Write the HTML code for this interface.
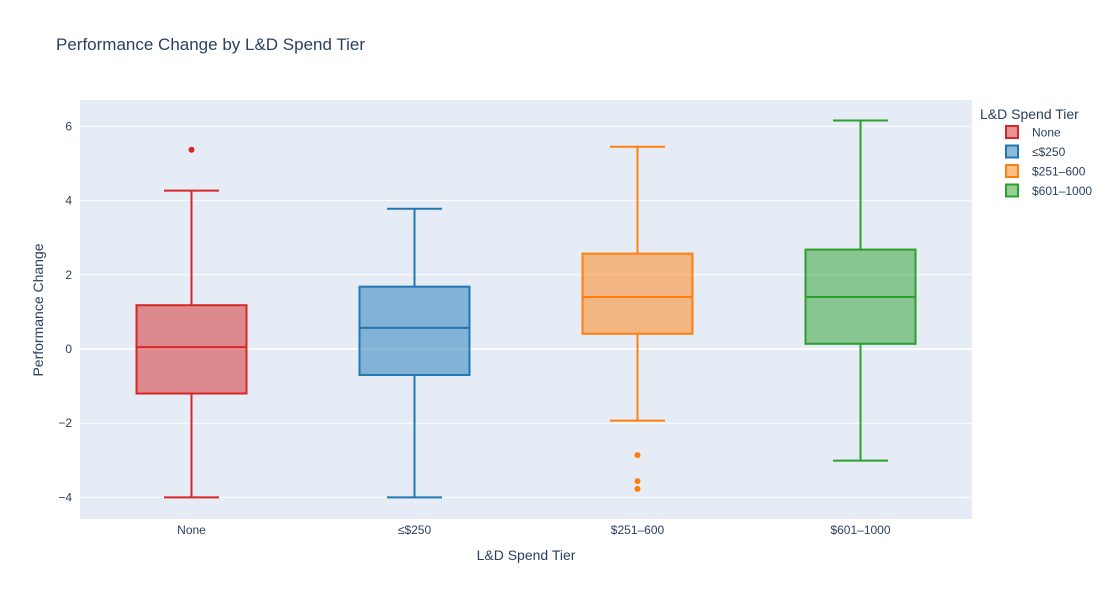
<!DOCTYPE html>
<html><head><meta charset="utf-8">
<style>
body{margin:0;background:#fff;font-family:"Liberation Sans",sans-serif;}
svg text{font-family:"Liberation Sans","DejaVu Sans",sans-serif;}
</style></head>
<body>
<svg id="chart" width="1118" height="600" xmlns="http://www.w3.org/2000/svg">
<rect width="1118" height="600" fill="#fff"/>
<text x="56" y="50" font-size="17" fill="#2a3f5f">Performance Change by L&amp;D Spend Tier</text>
<rect x="80" y="100" width="892" height="419" fill="#e5ecf6"/>
<g id="grid"></g>
<g id="boxes"></g>
<g id="xt"></g>
<text x="526" y="560" font-size="14" fill="#2a3f5f" text-anchor="middle">L&amp;D Spend Tier</text>
<text transform="translate(43,310) rotate(-90)" font-size="14" fill="#2a3f5f" text-anchor="middle">Performance Change</text>
<text x="980" y="119" font-size="14" fill="#2a3f5f">L&amp;D Spend Tier</text>
<g id="legend"></g>
</svg>
<script>
const categories=["None","≤$250","$251–600","$601–1000"];
const colors=["#d62728","#1f77b4","#ff7f0e","#2ca02c"];
const fills=["rgba(214,39,40,0.5)","rgba(31,119,180,0.5)","rgba(255,127,14,0.5)","rgba(44,160,44,0.5)"];
const lowerFence=[-4,-4,-1.93,-3.01];
const q1=[-1.2,-0.7,0.41,0.14];
const medians=[0.05,0.57,1.4,1.4];
const q3=[1.18,1.68,2.57,2.68];
const upperFence=[4.27,3.78,5.45,6.16];
const outliers=[[5.37],[],[-2.86,-3.56,-3.77],[]];
const yTicks=[-4,-2,0,2,4,6];
const NS="http://www.w3.org/2000/svg";
const X0=80,W=892;
const y=v=>349-v*37.1;
const xc=i=>X0+W/categories.length*(i+0.5);
function mk(t,a,p){const e=document.createElementNS(NS,t);for(const k in a)e.setAttribute(k,a[k]);p.appendChild(e);return e;}
const grid=document.getElementById('grid');
yTicks.forEach(v=>{
 const l=mk('line',{x1:X0,x2:X0+W,y1:y(v),y2:y(v),stroke:'#fff','stroke-width':v===0?2:1},grid);
 
 
 const t=mk('text',{x:X0-8,y:y(v)+4,'font-size':12,fill:'#2a3f5f','text-anchor':'end'},grid);
 t.textContent=v<0?'−'+Math.abs(v):String(v);
 
 
});
const bx=document.getElementById('boxes');
const bw=110;
categories.forEach((c,i)=>{
 const g=mk('g',{},bx);
 
 
 const cx=xc(i),col=colors[i];
 mk('line',{x1:cx,x2:cx,y1:y(upperFence[i]),y2:y(q3[i]),stroke:col,'stroke-width':2},g);
 mk('line',{x1:cx,x2:cx,y1:y(q1[i]),y2:y(lowerFence[i]),stroke:col,'stroke-width':2},g);
 mk('line',{x1:cx-bw/4,x2:cx+bw/4,y1:y(upperFence[i]),y2:y(upperFence[i]),stroke:col,'stroke-width':2},g);
 mk('line',{x1:cx-bw/4,x2:cx+bw/4,y1:y(lowerFence[i]),y2:y(lowerFence[i]),stroke:col,'stroke-width':2},g);
 mk('rect',{x:cx-bw/2,y:y(q3[i]),width:bw,height:y(q1[i])-y(q3[i]),fill:fills[i],stroke:col,'stroke-width':2},g);
 mk('line',{x1:cx-bw/2,x2:cx+bw/2,y1:y(medians[i]),y2:y(medians[i]),stroke:col,'stroke-width':2},g);
 outliers[i].forEach(o=>{
  const p=mk('circle',{cx:cx,cy:y(o),r:3,fill:col},g);
  
  
 });
 const t=mk('text',{x:cx,y:534,'font-size':12,fill:'#2a3f5f','text-anchor':'middle'},document.getElementById('xt'));
 t.textContent=c;
 
 
 const lg=mk('g',{},document.getElementById('legend'));
 
 
 const ly=132+i*19.5;
 mk('rect',{x:1006,y:ly-6,width:12,height:12,fill:fills[i],stroke:col,'stroke-width':2},lg);
 const lt=mk('text',{x:1032,y:ly+4.5,'font-size':12,fill:'#2a3f5f'},lg);
 lt.textContent=c;
});
</script>
</body></html>
